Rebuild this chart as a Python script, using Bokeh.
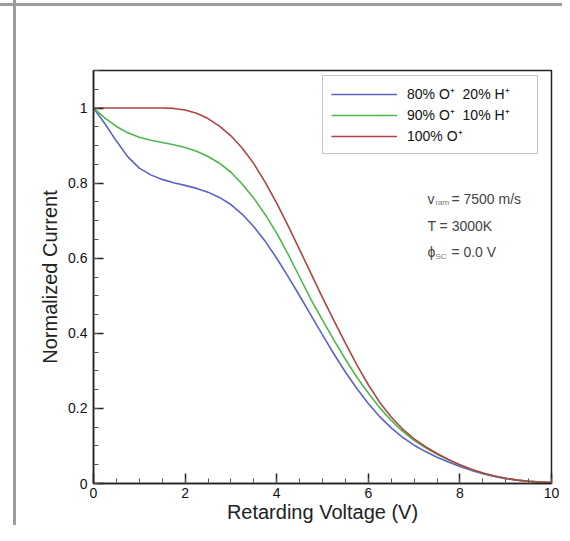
from bokeh.plotting import figure
from bokeh.models import FixedTicker, Legend, LegendItem, Label
from bokeh.embed import file_html
from bokeh.resources import INLINE

# ---- data ----
voltage = [0.0, 0.25, 0.5, 0.75, 1.0, 1.25, 1.5, 1.75, 2.0, 2.25, 2.5, 2.75,
           3.0, 3.25, 3.5, 3.75, 4.0, 4.25, 4.5, 4.75, 5.0, 5.25, 5.5, 5.75,
           6.0, 6.25, 6.5, 6.75, 7.0, 7.25, 7.5, 7.75, 8.0, 8.25, 8.5, 8.75,
           9.0, 9.25, 9.5, 9.75, 10.0]

current_80O_20H = [1.000, 0.958, 0.912, 0.870, 0.840, 0.822, 0.810, 0.801, 0.794, 0.786,
                   0.776, 0.762, 0.743, 0.717, 0.684, 0.645, 0.600, 0.551, 0.500, 0.448,
                   0.396, 0.345, 0.297, 0.253, 0.213, 0.178, 0.148, 0.123, 0.102, 0.085,
                   0.070, 0.057, 0.045, 0.035, 0.026, 0.019, 0.013, 0.009, 0.006, 0.004,
                   0.002]

current_90O_10H = [1.000, 0.973, 0.951, 0.934, 0.922, 0.914, 0.908, 0.902, 0.895, 0.885,
                   0.871, 0.853, 0.829, 0.797, 0.760, 0.716, 0.667, 0.610, 0.550, 0.490,
                   0.435, 0.382, 0.331, 0.283, 0.241, 0.202, 0.168, 0.139, 0.115, 0.095,
                   0.078, 0.063, 0.049, 0.037, 0.028, 0.020, 0.014, 0.009, 0.006, 0.004,
                   0.002]

current_100O = [1.000, 1.000, 1.000, 1.000, 1.000, 1.000, 1.000, 0.999, 0.995, 0.986,
                0.972, 0.952, 0.926, 0.893, 0.852, 0.802, 0.747, 0.686, 0.623, 0.559,
                0.495, 0.434, 0.374, 0.316, 0.263, 0.216, 0.177, 0.145, 0.119, 0.098,
                0.080, 0.064, 0.050, 0.038, 0.028, 0.020, 0.014, 0.009, 0.006, 0.004,
                0.003]

series_labels = ["80% O\u207a  20% H\u207a", "90% O\u207a  10% H\u207a", "100% O\u207a"]
series_colors = ["#5b63c4", "#4cb84c", "#b04444"]

x_ticks = [0, 2, 4, 6, 8, 10]
x_minor = [v * 0.5 for v in range(0, 21)]
y_ticks = [0, 0.2, 0.4, 0.6, 0.8, 1.0]
y_tick_labels = ["0", "0.2", "0.4", "0.6", "0.8", "1"]
y_minor = [v * 0.05 for v in range(0, 23)]

FONT = "Liberation Sans"

p = figure(width=562, height=525, output_backend="svg", toolbar_location=None,
           x_range=(0, 10), y_range=(0, 1.1),
           min_border_left=93, min_border_right=11, min_border_top=70, min_border_bottom=42,
           styles={
               "background": "linear-gradient(#9c9c9c,#9c9c9c) 0px 3px / 100% 3px no-repeat, "
                             "linear-gradient(#9c9c9c,#9c9c9c) 13px 0px / 3px 100% no-repeat",
           })
p.border_fill_color = None
p.background_fill_color = "white"
p.outline_line_color = "#222222"
p.outline_line_width = 1.5
p.xgrid.visible = False
p.ygrid.visible = False

renderers = []
for ys, c in zip([current_80O_20H, current_90O_10H, current_100O], series_colors):
    r = p.line(voltage, ys, line_color=c, line_width=1.6)
    renderers.append(r)

# axes
xa = p.xaxis[0]
xa.ticker = FixedTicker(ticks=x_ticks, minor_ticks=x_minor)
xa.axis_label = "Retarding Voltage (V)"
ya = p.yaxis[0]
ya.ticker = FixedTicker(ticks=y_ticks, minor_ticks=y_minor)
ya.major_label_overrides = {t: l for t, l in zip(y_ticks, y_tick_labels)}
ya.axis_label = "Normalized Current"

for ax in (xa, ya):
    ax.axis_line_color = "#222222"
    ax.axis_line_width = 1.5
    ax.major_tick_in = 10
    ax.major_tick_out = 0
    ax.minor_tick_in = 5
    ax.minor_tick_out = 0
    ax.major_tick_line_color = "#222222"
    ax.major_tick_line_width = 1.5
    ax.minor_tick_line_color = "#555555"
    ax.minor_tick_line_width = 1
    ax.major_label_text_font = FONT
    ax.major_label_text_font_size = "14px"
    ax.major_label_text_color = "#111111"
    ax.axis_label_text_font = FONT
    ax.axis_label_text_font_size = "20px"
    ax.axis_label_text_font_style = "normal"
    ax.axis_label_text_color = "#222222"

xa.major_label_standoff = 4
xa.axis_label_standoff = 0
ya.major_label_standoff = 6
ya.axis_label_standoff = 4

# legend
legend = Legend(items=[LegendItem(label=l, renderers=[r]) for l, r in zip(series_labels, renderers)],
                location=(229, 329))
legend.border_line_color = "#8a8a8a"
legend.border_line_width = 1
legend.background_fill_color = "white"
legend.background_fill_alpha = 1
legend.padding = 8
legend.margin = 0
legend.glyph_width = 66
legend.glyph_height = 16
legend.label_height = 16
legend.label_width = 122
legend.spacing = 2
legend.label_standoff = 10
legend.label_text_font = FONT
legend.label_text_font_size = "14px"
legend.label_text_color = "#111111"
p.add_layout(legend)

# parameter annotations
ann_x = 7.29
ann_color = "#444444"
ann_rows = [
    (0.758, "v", "ram", "= 7500 m/s"),
    (0.687, "T = 3000K", None, None),
    (0.616, "\u03d5", "SC", "= 0.0 V"),
]
for y, main, sub, rest in ann_rows:
    p.add_layout(Label(x=ann_x, y=y, text=main, text_font=FONT, text_font_size="14px",
                       text_color=ann_color, text_baseline="middle", text_align="left"))
    if sub:
        p.add_layout(Label(x=ann_x, y=y, x_offset=8, y_offset=-4, text=sub, text_font=FONT,
                           text_font_size="8px", text_color="#777777",
                           text_baseline="middle", text_align="left"))
        p.add_layout(Label(x=ann_x, y=y, x_offset=24, text=rest, text_font=FONT,
                           text_font_size="14px", text_color=ann_color,
                           text_baseline="middle", text_align="left"))

open("out.html", "w").write(file_html(p, INLINE))
